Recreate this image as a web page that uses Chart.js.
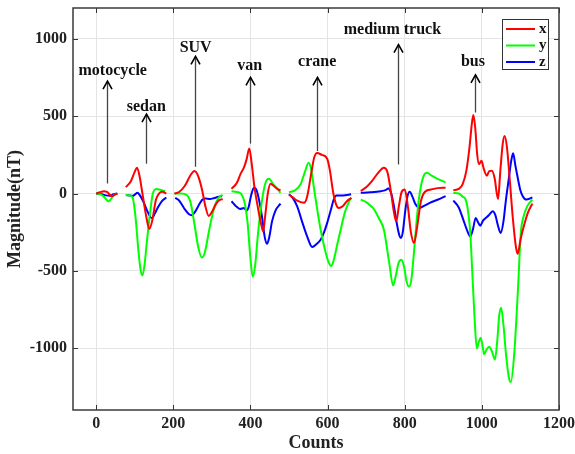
<!DOCTYPE html>
<html>
<head>
<meta charset="utf-8">
<script src="https://cdn.jsdelivr.net/npm/chart.js@4/dist/chart.umd.min.js"></script>
<style>
    html, body { margin: 0; padding: 0; background: #fff; }
    #wrap { width: 575px; height: 454px; }
</style>
</head>
<body>
<div id="wrap"><canvas id="magChart"></canvas></div>
<script>
// Axe x : compteurs (null = coupure entre véhicules)
const xCounts = [0, 10, 20, 28, 41, 48, 55, null,
    77, 90, 100, 106, 112, 120, 130, 138, 145, 155, 163, 171, 182, null,
    203, 215, 230, 245, 255, 265, 275, 283, 292, 300, 310, 318, 328, null,
    351, 365, 375, 383, 390, 397, 403, 410, 420, 428, 433, 438, 445, 452, 460, 470, 478, null,
    500, 510, 520, 539, 547, 557, 565, 573, 585, 599, 606, 615, 622, 629, 640, 650, 662, null,
    686, 700, 715, 730, 746, 755, 765, 772, 778, 785, 792, 800, 808, 816, 824, 832, 842, 852, 868, 885, 906, null,
    926, 940, 950, 960, 968, 974, 978, 983, 988, 993, 999, 1005, 1013, 1019, 1026, 1033, 1042, 1048, 1054, 1059, 1065, 1072, 1080, 1088, 1093, 1100, 1110, 1120, 1131];
const xField = [0, 8, 15, 10, -17, -8, 0, null,
    41, 80, 140, 167, 120, 0, -150, -229, -180, -40, 0, 12, 0, null,
    0, 10, 50, 120, 145, 110, 20, -80, -145, -120, -70, -45, -35, null,
    30, 70, 130, 167, 221, 292, 200, 50, -100, -200, -245, -150, 0, 63, 50, 30, 20, null,
    -6, -25, -45, -60, -20, 120, 230, 262, 250, 225, 150, 0, -70, -93, -80, -50, -28, null,
    17, 40, 80, 130, 167, 140, 0, -120, -180, -80, 10, 26, -80, -250, -320, -220, -50, 10, 26, 35, 37, null,
    21, 30, 60, 150, 300, 450, 508, 420, 250, 190, 212, 160, 115, 145, 147, 100, -35, 150, 320, 372, 300, 100, -150, -340, -390, -300, -200, -120, -65];

// Axe y
const yCounts = [0, 12, 22, 32, 40, 47, 55, null,
    77, 88, 95, 102, 110, 115, 120, 125, 132, 140, 147, 157, 166, 179, null,
    203, 220, 235, 245, 255, 265, 274, 282, 292, 302, 312, 320, 328, null,
    351, 365, 375, 385, 393, 400, 406, 412, 420, 428, 436, 443, 448, 460, 470, 478, null,
    500, 515, 530, 540, 551, 558, 564, 573, 582, 592, 602, 610, 617, 625, 634, 645, 655, 661, null,
    686, 700, 712, 721, 733, 746, 760, 770, 777, 784, 791, 798, 805, 811, 817, 824, 830, 836, 843, 850, 857, 870, 885, 906, null,
    926, 940, 950, 958, 964, 970, 975, 981, 987, 992, 997, 1002, 1006, 1012, 1019, 1026, 1034, 1040, 1045, 1050, 1056, 1063, 1070, 1075, 1084, 1094, 1101, 1108, 1118, 1131];
const yField = [0, -5, -25, -50, -30, -8, 0, null,
    -10, -12, -30, -150, -380, -490, -530, -470, -300, -120, 0, 30, 25, 15, null,
    0, 0, -10, -60, -200, -350, -414, -380, -250, -130, -50, -20, -8, null,
    15, 10, 0, -60, -200, -420, -537, -470, -250, -80, 40, 90, 95, 58, 30, 4, null,
    8, 20, 60, 130, 199, 150, 47, -100, -234, -350, -440, -468, -420, -330, -234, -120, -55, -28, null,
    -39, -55, -80, -104, -160, -234, -450, -595, -530, -450, -429, -470, -570, -602, -560, -380, -200, -50, 60, 120, 134, 115, 95, 73, null,
    4, 0, -20, -39, -110, -255, -500, -800, -1002, -960, -933, -990, -1039, -1010, -991, -1020, -1073, -950, -790, -738, -850, -1050, -1190, -1219, -1035, -602, -255, -150, -80, -39];

// Axe z
const zCounts = [0, 15, 25, 35, 45, 55, null,
    77, 88, 95, 101, 107, 113, 122, 132, 140, 145, 152, 160, 170, 182, null,
    205, 215, 228, 240, 248, 256, 265, 275, 283, 295, 305, 318, 326, null,
    351, 362, 373, 383, 390, 395, 402, 409, 416, 423, 430, 437, 443, 449, 456, 465, 478, null,
    500, 510, 521, 535, 547, 560, 572, 582, 591, 599, 608, 616, 623, 640, 661, null,
    686, 710, 738, 750, 757, 765, 772, 780, 786, 790, 795, 801, 807, 813, 820, 828, 839, 850, 865, 885, 906, null,
    926, 940, 952, 962, 970, 977, 984, 990, 996, 1003, 1010, 1018, 1028, 1035, 1042, 1049, 1056, 1062, 1070, 1076, 1081, 1087, 1093, 1100, 1106, 1115, 1131];
const zField = [0, -5, -12, -15, -5, 0, null,
    -10, -12, -15, -5, 5, -10, -50, -110, -150, -158, -130, -90, -50, -26, null,
    -28, -45, -95, -132, -140, -120, -80, -40, -32, -35, -30, -20, -17, null,
    -50, -80, -100, -93, -110, -90, -10, 37, 20, -50, -150, -280, -325, -280, -180, -110, -65, null,
    -5, -30, -82, -190, -277, -346, -325, -299, -250, -190, -110, -39, -13, -12, -5, null,
    5, 8, 15, 22, 32, 0, -80, -200, -270, -288, -250, -120, -20, 11, -20, -70, -93, -80, -60, -40, -17, null,
    -45, -90, -170, -240, -277, -230, -158, -185, -208, -175, -158, -140, -115, -140, -210, -255, -180, -50, 100, 210, 260, 180, 102, 20, -17, -39, -26];

// Graduations
const countTicks = [0, 200, 400, 600, 800, 1000, 1200];
const magTicks = [-1000, -500, 0, 500, 1000];

// Véhicules annotés (flèche verticale + libellé)
const vehicleNames = ['motocycle', 'sedan', 'SUV', 'van', 'crane', 'medium truck', 'bus'];
const arrowCounts = [29, 129, 255, 398, 573, 782, 982];
const arrowFrom = [65, 193, 173, 323, 275, 188, 524];
const arrowTo = [727, 513, 887, 751, 751, 963, 768];
const labelCounts = [43, 130, 258, 398, 573, 768, 977];
const labelMags = [794, 563, 940, 827, 853, 1060, 853];

const serif = "'Liberation Serif', 'Times New Roman', serif";

function toPoints(counts, values) {
    return counts.map((c, i) => ({ x: c, y: values[i] }));
}

const series = [
    { label: 'x', color: '#ff0000', data: toPoints(xCounts, xField) },
    { label: 'y', color: '#00ff00', data: toPoints(yCounts, yField) },
    { label: 'z', color: '#0000ff', data: toPoints(zCounts, zField) },
];

// Cadre, graduations intérieures, flèches et légende
const decorPlugin = {
    id: 'decor',
    afterDraw(chart) {
        const ctx = chart.ctx;
        const area = chart.chartArea;
        const xs = chart.scales.x;
        const ys = chart.scales.y;
        ctx.save();

        // graduations vers l'intérieur
        ctx.strokeStyle = '#333';
        ctx.lineWidth = 1;
        ctx.beginPath();
        countTicks.forEach(v => {
            const px = Math.round(xs.getPixelForValue(v)) + 0.5;
            ctx.moveTo(px, area.bottom); ctx.lineTo(px, area.bottom - 5);
            ctx.moveTo(px, area.top); ctx.lineTo(px, area.top + 5);
        });
        magTicks.forEach(v => {
            const py = Math.round(ys.getPixelForValue(v)) + 0.5;
            ctx.moveTo(area.left, py); ctx.lineTo(area.left + 5, py);
            ctx.moveTo(area.right, py); ctx.lineTo(area.right - 5, py);
        });
        ctx.stroke();

        // cadre
        ctx.strokeStyle = '#3a3a3a';
        ctx.lineWidth = 1.5;
        ctx.strokeRect(area.left, area.top, area.right - area.left, area.bottom - area.top);

        // flèches + libellés
        ctx.font = 'bold 16px ' + serif;
        ctx.textAlign = 'center';
        ctx.textBaseline = 'middle';
        vehicleNames.forEach((name, i) => {
            const ax = Math.round(xs.getPixelForValue(arrowCounts[i])) + 0.5;
            const y0 = ys.getPixelForValue(arrowFrom[i]);
            const y1 = ys.getPixelForValue(arrowTo[i]);
            ctx.strokeStyle = '#444';
            ctx.lineWidth = 1.3;
            ctx.beginPath();
            ctx.moveTo(ax, y0); ctx.lineTo(ax, y1);
            ctx.stroke();
            ctx.strokeStyle = '#000';
            ctx.lineWidth = 1.6;
            ctx.beginPath();
            ctx.moveTo(ax - 4.5, y1 + 8); ctx.lineTo(ax, y1); ctx.lineTo(ax + 4.5, y1 + 8);
            ctx.stroke();
            ctx.fillStyle = '#111';
            ctx.fillText(name, xs.getPixelForValue(labelCounts[i]), ys.getPixelForValue(labelMags[i]));
        });

        // légende
        const lx = 502, ly = 19, lw = 46, lh = 50;
        ctx.fillStyle = '#fff';
        ctx.fillRect(lx, ly, lw, lh);
        ctx.strokeStyle = '#333';
        ctx.lineWidth = 1;
        ctx.strokeRect(lx + 0.5, ly + 0.5, lw, lh);
        ctx.font = 'bold 15px ' + serif;
        ctx.textAlign = 'left';
        series.forEach((s, i) => {
            const yy = ly + 10 + i * 16.5;
            ctx.strokeStyle = s.color;
            ctx.lineWidth = 2;
            ctx.beginPath();
            ctx.moveTo(lx + 4, yy); ctx.lineTo(lx + 33, yy);
            ctx.stroke();
            ctx.fillStyle = '#111';
            ctx.fillText(s.label, lx + 37, yy);
        });
        ctx.restore();
    }
};

new Chart(document.getElementById('magChart'), {
    type: 'line',
    data: {
        datasets: series.map(s => ({
            label: s.label,
            data: s.data,
            borderColor: s.color,
            backgroundColor: s.color,
            borderWidth: 2,
            pointRadius: 0,
            fill: false,
            spanGaps: false,
            cubicInterpolationMode: 'monotone',
        }))
    },
    options: {
        responsive: true,
        maintainAspectRatio: false,
        animation: false,
        layout: { padding: { top: 8, right: 16, left: 0, bottom: 0 } },
        plugins: {
            legend: { display: false },
            tooltip: { enabled: false }
        },
        scales: {
            x: {
                type: 'linear',
                min: -60,
                max: 1200,
                afterFit: scale => {
                    scale.height = 44;
                    scale.paddingLeft = 0;
                    scale.paddingRight = 0;
                },
                afterBuildTicks: scale => { scale.ticks = countTicks.map(v => ({ value: v })); },
                grid: { color: '#e4e4e4', drawTicks: false },
                border: { display: false },
                ticks: {
                    padding: 4,
                    color: '#222',
                    maxRotation: 0,
                    callback: v => String(v),
                    font: { family: serif, size: 16, weight: 'bold' }
                },
                title: {
                    display: true,
                    text: 'Counts',
                    color: '#222',
                    padding: { top: 0, bottom: 0 },
                    font: { family: serif, size: 18, weight: 'bold' }
                }
            },
            y: {
                type: 'linear',
                min: -1400,
                max: 1200,
                afterFit: scale => {
                    scale.width = 73;
                    scale.paddingTop = 0;
                    scale.paddingBottom = 0;
                },
                afterBuildTicks: scale => { scale.ticks = magTicks.map(v => ({ value: v })); },
                grid: { color: '#e4e4e4', drawTicks: false },
                border: { display: false },
                ticks: {
                    padding: 6,
                    color: '#222',
                    callback: v => String(v),
                    font: { family: serif, size: 16, weight: 'bold' }
                },
                title: {
                    display: true,
                    text: 'Magnitude(nT)',
                    color: '#222',
                    padding: { top: 5, bottom: 0 },
                    font: { family: serif, size: 18, weight: 'bold' }
                }
            }
        }
    },
    plugins: [decorPlugin]
});
</script>
</body>
</html>
